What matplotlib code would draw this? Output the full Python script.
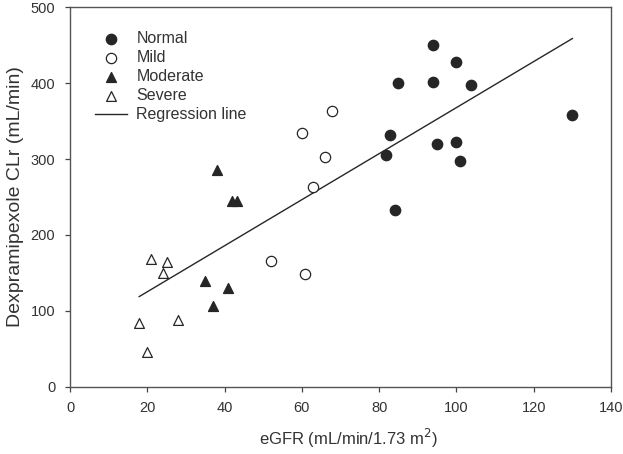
import numpy as np
import matplotlib
matplotlib.use("Agg")
import matplotlib.pyplot as plt

plt.rcParams['font.family'] = ['Liberation Sans', 'DejaVu Sans']

# eGFR (x) and renal clearance (y) by renal function group
normal_x = [93.9, 99.8, 84.9, 93.9, 103.8, 130, 82.9, 81.8, 94.9, 99.8, 101, 84.0]
normal_y = [450, 428, 400, 401, 398, 358, 332, 306, 320, 323, 297, 233]
mild_x = [67.8, 60.0, 66.0, 63.0, 51.9, 60.9]
mild_y = [364, 334, 303, 263, 166, 148]
moderate_x = [38.0, 41.8, 43.1, 34.9, 41.0, 37.0]
moderate_y = [285, 245, 245, 139, 130, 106]
severe_x = [20.9, 25.0, 24.1, 17.9, 28.0, 20.0]
severe_y = [168, 164, 150, 84, 88, 46]

xticks = [0, 20, 40, 60, 80, 100, 120, 140]
yticks = [0, 100, 200, 300, 400, 500]

#regression on all points
all_x = np.array(normal_x + mild_x + moderate_x + severe_x)
all_y = np.array(normal_y + mild_y + moderate_y + severe_y)
slope, intercept = np.polyfit(all_x, all_y, 1)
line_x = np.array([all_x.min(), all_x.max()])

fig = plt.figure(figsize=(6.23, 4.54), dpi=100)
ax = fig.add_axes([0.1124, 0.1482, 0.8684, 0.8357])

dark = '#262626'
ax.scatter(normal_x, normal_y, s=55, marker='o', color=dark, label='Normal', zorder=3)
ax.scatter(mild_x, mild_y, s=55, marker='o', facecolor='white', edgecolor=dark, linewidth=0.9, label='Mild', zorder=3)
ax.scatter(moderate_x, moderate_y, s=50, marker='^', color=dark, label='Moderate', zorder=3)
ax.scatter(severe_x, severe_y, s=50, marker='^', facecolor='white', edgecolor=dark, linewidth=0.9, label='Severe', zorder=3)
ax.plot(line_x, slope * line_x + intercept, color=dark, lw=1.0, label='Regression line')

ax.set_xlim(0, 140)
ax.set_ylim(0, 500)
ax.set_xticks(xticks)
ax.set_yticks(yticks)
ax.tick_params(direction='out', length=3.6, width=0.9, pad=7, color='#444444',
               labelsize=10.5, labelcolor='#333333')
for s in ax.spines.values():
    s.set_color('#555555')
    s.set_linewidth(1.0)

ax.set_xlabel('eGFR (mL/min/1.73 m$^2$)', fontsize=12, color='#333333', labelpad=8)
ax.xaxis.label.set_x(0.514)
ax.set_ylabel('Dexpramipexole CLr (mL/min)', fontsize=14, color='#333333', labelpad=5)

leg = ax.legend(loc='upper left', frameon=False, fontsize=11.5, handlelength=2.0,
                handletextpad=0.6, labelspacing=0.25, borderpad=0, borderaxespad=0,
                bbox_to_anchor=(0.046, 0.937))
for t in leg.get_texts():
    t.set_color('#333333')

fig.savefig('out.png', dpi=100)
